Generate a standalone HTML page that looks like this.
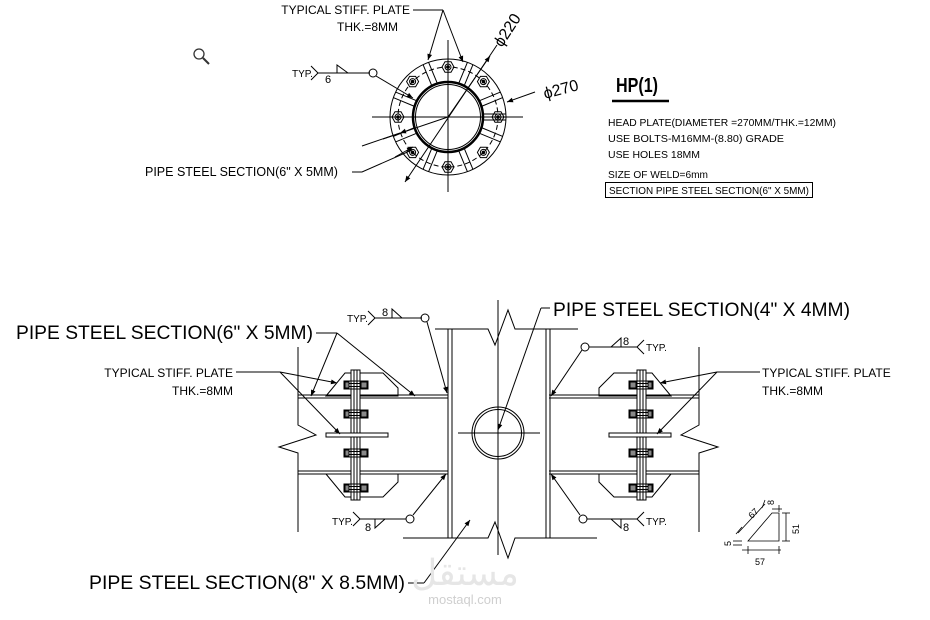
<!DOCTYPE html>
<html><head><meta charset="utf-8"><style>
html,body{margin:0;padding:0;background:#fff}
svg{display:block}
text{font-family:"Liberation Sans",sans-serif;fill:#000}
</style></head><body>
<svg width="930" height="620" viewBox="0 0 930 620" xmlns="http://www.w3.org/2000/svg">
<defs>
<marker id="ar" viewBox="0 0 10 10" refX="10" refY="5" markerWidth="8" markerHeight="6" orient="auto"><path d="M0,1 L10,5 L0,9 z" fill="#000"/></marker>
<g id="bolt"><polygon points="6,0 3,5.2 -3,5.2 -6,0 -3,-5.2 3,-5.2" fill="none" stroke="#000" stroke-width="1"/><circle r="3" fill="none" stroke="#000"/><circle r="1.3" fill="#000"/></g>
<g id="sb"><rect x="-12" y="-4" width="24" height="8" fill="none" stroke="#000"/><line x1="-12" y1="-1.5" x2="12" y2="-1.5" stroke="#000"/><line x1="-12" y1="1.5" x2="12" y2="1.5" stroke="#000"/><rect x="5" y="-3" width="6" height="6" fill="#888"/><rect x="-11" y="-3" width="4" height="6" fill="#888"/></g>
<g id="beam" fill="none" stroke="#000" stroke-width="1">
 <line x1="298" y1="395" x2="448" y2="395"/><line x1="298" y1="398" x2="448" y2="398"/>
 <line x1="298" y1="471" x2="448" y2="471"/><line x1="298" y1="474" x2="448" y2="474"/>
 <polyline points="298,347 298,425 316,435 279,447 298,453 298,532"/>
 <polygon points="326,396 345,373 383,373 398,388 398,396"/>
 <polygon points="326,474 345,497 383,497 398,482 398,474"/>
 <rect x="351" y="370" width="9" height="130" fill="#fff"/>
 <line x1="354" y1="370" x2="354" y2="500"/><line x1="357" y1="370" x2="357" y2="500"/>
 <rect x="326" y="433" width="62" height="4" fill="#fff"/>
 <use href="#sb" x="356" y="385"/><use href="#sb" x="356" y="414"/><use href="#sb" x="356" y="453"/><use href="#sb" x="356" y="488"/>
</g>
</defs>

<circle cx="199" cy="54" r="5" fill="none" stroke="#333" stroke-width="1.3"/><line x1="203" y1="58" x2="209" y2="64" stroke="#333" stroke-width="2"/>

<g fill="none" stroke="#000" stroke-width="1">
<circle cx="448" cy="117" r="58"/>
<circle cx="448" cy="117" r="50" stroke-dasharray="5,3"/>
<circle cx="448" cy="117" r="35" stroke-width="2.5"/>
<circle cx="448" cy="117" r="32.5"/>
<line x1="372" y1="117" x2="523" y2="117"/>
<line x1="448" y1="40" x2="448" y2="192"/>
<g transform="translate(448,117)">
<g id="st"><line x1="35" y1="-3" x2="58" y2="-3"/><line x1="35" y1="3" x2="58" y2="3"/></g>
<use href="#st" transform="rotate(22.5)"/><use href="#st" transform="rotate(67.5)"/><use href="#st" transform="rotate(112.5)"/><use href="#st" transform="rotate(157.5)"/><use href="#st" transform="rotate(202.5)"/><use href="#st" transform="rotate(247.5)"/><use href="#st" transform="rotate(292.5)"/><use href="#st" transform="rotate(337.5)"/>
<use href="#bolt" x="50" y="0"/><use href="#bolt" x="-50" y="0"/><use href="#bolt" x="0" y="50"/><use href="#bolt" x="0" y="-50"/>
<use href="#bolt" x="35.4" y="35.4"/><use href="#bolt" x="-35.4" y="35.4"/><use href="#bolt" x="35.4" y="-35.4"/><use href="#bolt" x="-35.4" y="-35.4"/>
</g>
<line x1="497" y1="45" x2="405" y2="182" marker-end="url(#ar)"/>
<line x1="448" y1="117" x2="490" y2="56" marker-end="url(#ar)"/>
<line x1="535" y1="92" x2="507" y2="102" marker-end="url(#ar)"/>
<line x1="448" y1="117" x2="383" y2="139"/><line x1="400" y1="133" x2="362" y2="146" marker-start="url(#ar)"/>
<polyline points="413,10 443,10"/><line x1="443" y1="10" x2="428" y2="60" marker-end="url(#ar)"/><line x1="443" y1="10" x2="463" y2="62" marker-end="url(#ar)"/>
<line x1="318" y1="73" x2="370" y2="73"/><polyline points="311,66 318,73 311,80"/><polyline points="337,73 337,65 348,73"/>
<circle cx="373" cy="73" r="4"/><line x1="376" y1="76" x2="413" y2="98" marker-end="url(#ar)"/>
<polyline points="352,172 362,172 412,150"/><line x1="395" y1="157" x2="413" y2="147" marker-end="url(#ar)"/>
</g>
<text x="410" y="14" font-size="12" text-anchor="end">TYPICAL STIFF. PLATE</text>
<text x="398" y="31" font-size="12" text-anchor="end">THK.=8MM</text>
<text x="292" y="77" font-size="10">TYP.</text>
<text x="325" y="83" font-size="11">6</text>
<text x="145" y="176" font-size="12.5">PIPE STEEL SECTION(6" X 5MM)</text>
<text x="0" y="0" font-size="16" transform="translate(502,48) rotate(-57)">ϕ220</text>
<text x="0" y="0" font-size="16" transform="translate(545,99) rotate(-15)">ϕ270</text>

<text x="616" y="92" font-size="20" font-weight="bold" textLength="42" lengthAdjust="spacingAndGlyphs">HP(1)</text>
<line x1="612" y1="101" x2="669" y2="101" stroke="#000" stroke-width="2.5"/>
<g font-size="10.5">
<text x="608" y="126" textLength="228" lengthAdjust="spacingAndGlyphs">HEAD PLATE(DIAMETER =270MM/THK.=12MM)</text>
<text x="608" y="142" textLength="176" lengthAdjust="spacingAndGlyphs">USE BOLTS-M16MM-(8.80) GRADE</text>
<text x="608" y="158" textLength="92" lengthAdjust="spacingAndGlyphs">USE HOLES 18MM</text>
<text x="608" y="178" textLength="100" lengthAdjust="spacingAndGlyphs">SIZE OF WELD=6mm</text>
<text x="609" y="194" textLength="200" lengthAdjust="spacingAndGlyphs">SECTION PIPE STEEL SECTION(6" X 5MM)</text>
</g>
<rect x="605.5" y="182.5" width="207" height="15" fill="none" stroke="#000"/>

<use href="#beam"/>
<use href="#beam" transform="translate(997,0) scale(-1,1)"/>
<g fill="none" stroke="#000" stroke-width="1">
<line x1="448" y1="329" x2="448" y2="538"/><line x1="452" y1="329" x2="452" y2="538"/>
<line x1="546" y1="329" x2="546" y2="538"/><line x1="550" y1="329" x2="550" y2="538"/>
<polyline points="435,329 488,329 495,345 508,310 515,329 578,329"/>
<polyline points="403,538 488,538 495,522 508,558 515,538 597,538"/>
<line x1="498" y1="300" x2="498" y2="555"/>
<circle cx="498" cy="433" r="26"/><circle cx="498" cy="433" r="23.5"/>
<line x1="458" y1="433" x2="540" y2="433"/>
<line x1="375" y1="318" x2="422" y2="318"/><polyline points="368,311 375,318 368,325"/><polyline points="392,318 392,309 402,318"/>
<circle cx="425" cy="318" r="4"/><line x1="427" y1="322" x2="447" y2="393" marker-end="url(#ar)"/>
<line x1="360" y1="519" x2="406" y2="519"/><polyline points="353,512 360,519 353,526"/><polyline points="375,519 375,528 385,519"/>
<circle cx="410" cy="519" r="4"/><line x1="413" y1="515" x2="446" y2="474" marker-end="url(#ar)"/>
<line x1="589" y1="347" x2="637" y2="347"/><polyline points="644,340 637,347 644,354"/><polyline points="621,347 621,338 611,347"/>
<circle cx="585" cy="347" r="4"/><line x1="582" y1="350" x2="551" y2="396" marker-end="url(#ar)"/>
<line x1="587" y1="519" x2="637" y2="519"/><polyline points="644,512 637,519 644,526"/><polyline points="621,519 621,528 611,519"/>
<circle cx="583" cy="519" r="4"/><line x1="580" y1="515" x2="551" y2="474" marker-end="url(#ar)"/>
<polyline points="316,333 337,333"/><line x1="337" y1="333" x2="311" y2="396" marker-end="url(#ar)"/><line x1="337" y1="333" x2="415" y2="396" marker-end="url(#ar)"/>
<line x1="236" y1="372" x2="280" y2="372"/><line x1="280" y1="372" x2="337" y2="383" marker-end="url(#ar)"/><line x1="280" y1="372" x2="340" y2="434" marker-end="url(#ar)"/>
<line x1="717" y1="372" x2="760" y2="372"/><line x1="717" y1="372" x2="660" y2="383" marker-end="url(#ar)"/><line x1="717" y1="372" x2="657" y2="434" marker-end="url(#ar)"/>
<polyline points="550,308 541,308"/><line x1="541" y1="308" x2="498" y2="430" marker-end="url(#ar)"/>
<polyline points="408,583 424,583"/><line x1="424" y1="583" x2="470" y2="520" marker-end="url(#ar)"/>
</g>
<text x="347" y="322" font-size="10">TYP.</text><text x="382" y="316" font-size="11">8</text>
<text x="332" y="525" font-size="10">TYP.</text><text x="365" y="531" font-size="11">8</text>
<text x="646" y="351" font-size="10">TYP.</text><text x="623" y="345" font-size="11">8</text>
<text x="646" y="525" font-size="10">TYP.</text><text x="623" y="531" font-size="11">8</text>
<text x="16" y="339" font-size="19" textLength="297" lengthAdjust="spacingAndGlyphs">PIPE STEEL SECTION(6" X 5MM)</text>
<text x="233" y="377" font-size="12" text-anchor="end">TYPICAL STIFF. PLATE</text>
<text x="233" y="395" font-size="12" text-anchor="end">THK.=8MM</text>
<text x="762" y="377" font-size="12">TYPICAL STIFF. PLATE</text>
<text x="762" y="395" font-size="12">THK.=8MM</text>
<text x="553" y="316" font-size="19" textLength="297" lengthAdjust="spacingAndGlyphs">PIPE STEEL SECTION(4" X 4MM)</text>
<text x="89" y="589" font-size="19" textLength="316" lengthAdjust="spacingAndGlyphs">PIPE STEEL SECTION(8" X 8.5MM)</text>

<g fill="none" stroke="#000" stroke-width="0.8">
<polygon points="748,541 772,513 779,513 779,541"/>
<line x1="738" y1="533" x2="765" y2="504"/><line x1="742" y1="527" x2="736" y2="534"/><line x1="765" y1="500" x2="762" y2="508"/>
<line x1="786" y1="513" x2="786" y2="541"/><line x1="782" y1="513" x2="790" y2="513"/><line x1="782" y1="541" x2="790" y2="541"/>
<line x1="742" y1="550" x2="781" y2="550"/><line x1="748" y1="546" x2="748" y2="554"/><line x1="779" y1="546" x2="779" y2="554"/>
<line x1="733" y1="541" x2="742" y2="541"/><line x1="733" y1="545" x2="742" y2="545"/>
<line x1="772" y1="509" x2="782" y2="509"/><line x1="779" y1="505" x2="779" y2="512"/>
</g>
<text font-size="9" transform="translate(752,519) rotate(-45)">67</text>
<text font-size="9" transform="translate(774,505) rotate(-90)">8</text>
<text font-size="9" transform="translate(799,534) rotate(-90)">51</text>
<text font-size="9" transform="translate(731,546) rotate(-90)">5</text>
<text x="755" y="565" font-size="9">57</text>

<text x="465" y="585" font-size="36" style="fill:#e6e6e6" text-anchor="middle" font-family="'Noto Sans CJK SC',sans-serif">مستقل</text>
<text x="465" y="604" font-size="13" style="fill:#cfcfcf" text-anchor="middle">mostaql.com</text>
</svg>
</body></html>
